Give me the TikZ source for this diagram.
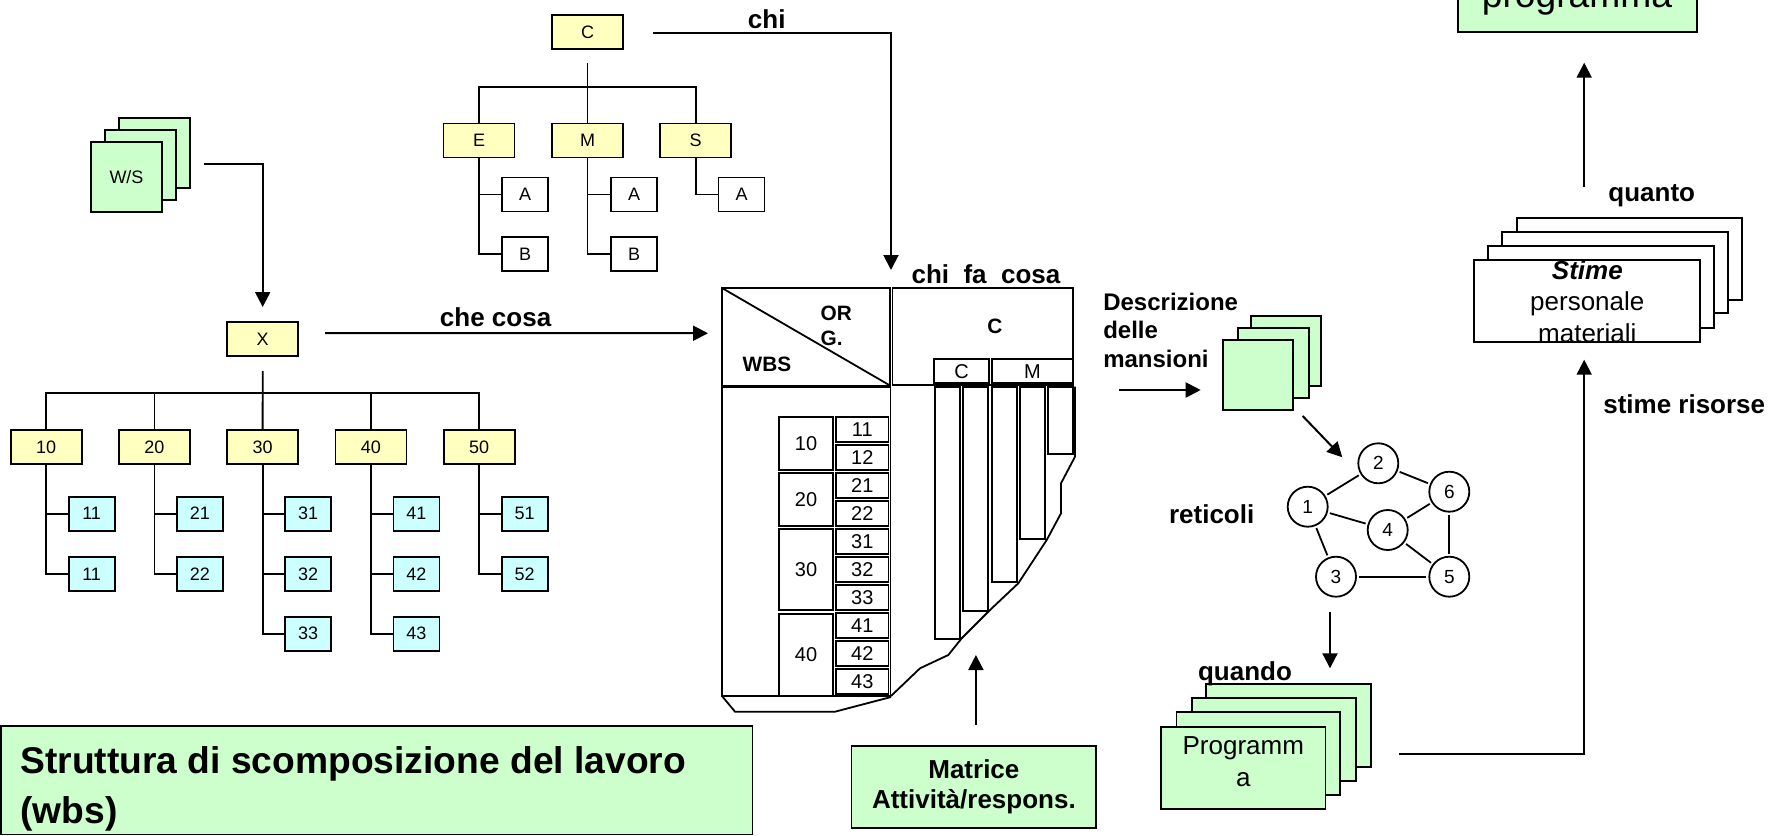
\documentclass[tikz,border=0pt]{standalone}
\usepackage{fontspec}
\setmainfont{Liberation Sans}
\usetikzlibrary{arrows.meta,calc}
\definecolor{boxyellow}{RGB}{255,255,192}
\definecolor{boxcyan}{RGB}{204,255,255}
\definecolor{boxgreen}{RGB}{204,255,204}
\newcommand{\fsz}[2]{\fontsize{#1}{#2}\selectfont}
\begin{document}
\begin{tikzpicture}[x=0.5pt,y=-0.5pt,
  every node/.style={inner sep=0pt,outer sep=0pt},
  ln/.style={line width=0.9pt},
  tln/.style={line width=1.6pt},
  bx/.style n args={2}{draw,line width=0.9pt,minimum width=#1*0.5pt,minimum height=#2*0.5pt},
  ybox/.style={bx={71}{34},fill=boxyellow,font=\fsz{9}{11}},
  cbox/.style={bx={46}{34},fill=boxcyan,font=\fsz{9}{11}},
  wbox/.style={bx={46}{34},fill=white,font=\fsz{9}{11}},
  card/.style={draw,line width=0.9pt},
  arr/.style={line width=1pt,-{Triangle[length=7.5pt,width=7.5pt]}},
  lbl/.style={font=\fsz{13}{15}\bfseries},
  mnum/.style={font=\fsz{10}{12}},
  nd/.style={circle,draw,line width=0.9pt,minimum size=20pt,fill=white,font=\fsz{9.5}{11}},
  netedge/.style={line width=0.9pt,shorten <=1.5pt,shorten >=1.5pt},
]
\useasboundingbox (0,0) rectangle (1785,836);
\clip (0,0) rectangle (1785,836);
\fill[white] (0,0) rectangle (1785,836);

% ---------- organisation chart ----------
\node[ybox] (C) at (587.5,32) {C};
\node[ybox] (E) at (479,140.5) {E};
\node[ybox] (M) at (587.5,140.5) {M};
\node[ybox] (S) at (695.7,140.5) {S};
\node[wbox] (EA) at (525,194.5) {A};
\node[wbox] (EB) at (525,254.3) {B};
\node[wbox] (MA) at (634,194.5) {A};
\node[wbox] (MB) at (634,254.3) {B};
\node[wbox] (SA) at (741.5,194.5) {A};
\coordinate (Cbar) at ($(C.south)+(0,38)$);
\draw[ln] ($(C.south)+(0,14)$) -- (M.north);
\draw[ln] (E.north) |- (Cbar) -| (S.north);
\draw[ln] (E.south) |- (EB.west);
\draw[ln] (E.south |- EA.west) -- (EA.west);
\draw[ln] (M.south) |- (MB.west);
\draw[ln] (M.south |- MA.west) -- (MA.west);
\draw[ln] (S.south) |- (SA.west);

% ---------- work breakdown structure ----------
\draw[card,fill=boxgreen] (119,118) rectangle (190,188);
\draw[card,fill=boxgreen] (105,130) rectangle (176,200);
\node[bx={71}{70},fill=boxgreen,font=\fsz{9}{11}] (ws) at (126.5,177) {W/S};
\node[ybox] (X) at (262.7,339) {X};
\foreach \p/\x in {10/46.1,20/154.4,30/262.6,40/370.9,50/479.1}
  \node[ybox] (w\p) at (\x,447.2) {\p};
\foreach \p/\a/\b in {10/11/11,20/21/22,30/31/32,40/41/42,50/51/52}{
  \node[cbox] (w\p-a) at ($(w\p)+(45.5,66.5)$) {\a};
  \node[cbox] (w\p-b) at ($(w\p)+(45.5,126.6)$) {\b};
  \draw[ln] (w\p.south) |- (w\p-b.west);
  \draw[ln] (w\p.south |- w\p-a.west) -- (w\p-a.west);
}
\node[cbox] (w30-c) at ($(w30)+(45.5,186.5)$) {33};
\node[cbox] (w40-c) at ($(w40)+(45.5,186.5)$) {43};
\draw[ln] (w30.south |- w30-b.west) |- (w30-c.west);
\draw[ln] (w40.south |- w40-b.west) |- (w40-c.west);
\coordinate (Xbar) at ($(X.south)+(0,37)$);
\draw[ln] ($(X.south)+(0,15)$) -- (w30.north);
\draw[ln] (w10.north) |- (Xbar) -| (w50.north);
\draw[ln] (w20.north) -- (w20.north |- Xbar);
\draw[ln] (w40.north) -- (w40.north |- Xbar);
\draw[arr] ($(ws.east)+(42,-13)$) -| ($(X.north)+(0,-15)$);

% ---------- responsibility matrix ----------
\node[bx={168}{97.5}] (hdr) at (806,336.75) {};
\draw[ln] (hdr.north west) -- (hdr.south east);
\node[font=\fsz{10.4}{12}\bfseries,anchor=base west] (tOR) at (820.7,320.7) {OR};
\node[font=\fsz{10.4}{12}\bfseries,anchor=base west] (tG) at (820.7,345) {G.};
\node[font=\fsz{10.4}{12}\bfseries,anchor=base west] (tWBS) at (742.7,371.7) {WBS};
\node[bx={180.8}{97}] (hdrC) at (982.9,336.5) {};
\node[font=\fsz{10.4}{12}\bfseries] (tC) at (995,326.7) {C};
\draw[tln] (722,386.5) -- (890.5,386.5);
\draw[ln] (722,386) -- (722,696) -- (891,696);
\draw[ln] (890.5,386) -- (890.5,696);
\draw[ln] (722,696) -- (735,711.7) -- (835,711.7) -- (891,697);
% sub-header
\node[bx={54.4}{24.3},mnum] (shC) at (961.5,371.2) {C};
\node[bx={81.6}{24.3},mnum] (shM) at (1032.5,371.2) {M};
% activity bars
\draw[ln] (935,386.7) rectangle (960,639);
\draw[ln] (963.3,386.7) rectangle (988.3,610.7);
\draw[ln] (991.7,386.7) rectangle (1016.7,582.3);
\draw[ln] (1020,386.7) rectangle (1045,539);
\draw[ln] (1048.3,386.7) rectangle (1073.3,454);
\draw[ln] (1075,386.7) -- (1075,456.7) -- (1061,483.3) -- (1061,513.3)
  -- (1046.7,540) -- (1018.3,583.3) -- (990,610) -- (961.7,638.3)
  -- (948.3,655) -- (920,668.3) -- (891,696);
% WBS rows
\foreach \k/\t in {0/11,1/12,2/21,3/22,4/31,5/32,6/33,7/41,8/42,9/43}
  \node[bx={52.5}{25},mnum] (r\t) at (862.25,{429.5+28*\k}) {\t};
\node[bx={54}{53},mnum] (g10) at (806,443.5) {10};
\node[bx={54}{53},mnum] (g20) at (806,499.5) {20};
\node[bx={54}{81},mnum] (g30) at (806,569.5) {30};
\node[bx={54}{82},mnum] (g40) at (806,655) {40};

% labels and arrows into the matrix
\draw[arr] ($(X.east)+(27,-6)$) -- ($(hdr.west)+(-14,-3.5)$);
\node[lbl,anchor=base] (lcc) at (495.6,326.7) {che cosa};
\draw[arr] ($(C.east)+(30,0.5)$) -| ($(hdr.north east)+(1,-18)$);
\node[lbl,anchor=base] (lchi) at (766.7,28.3) {chi};
\node[lbl,anchor=base] (lcfc) at (986,283.3) {chi\ \ fa\ \ cosa};

% ---------- captions ----------
\node[bx={751.5}{108.5},fill=boxgreen] (wbsbox) at (376.75,780.25) {};
\node[font=\fsz{18.6}{25}\bfseries,align=left,anchor=north west] (wbstext) at (20.5,746.5)
  {Struttura di scomposizione del lavoro\\(wbs)};
\node[bx={244.8}{81.9},fill=boxgreen,font=\fsz{13}{15}\bfseries,align=center] (mat) at (973.9,786.65)
  {Matrice\\Attività/respons.};
\draw[arr] ($(mat.north)+(2,-20.7)$) -- ++(0,-70);

% ---------- job descriptions ----------
\node[font=\fsz{12}{14.2}\bfseries,align=left,anchor=north west] (ldesc) at (1103.3,293)
  {Descrizione\\delle\\mansioni};
\draw[card,fill=boxgreen] (1250.7,316) rectangle (1320.7,386);
\draw[card,fill=boxgreen] (1238.3,328.3) rectangle (1308.7,397.7);
\node[bx={70}{70},fill=boxgreen] (desc) at (1257.7,375) {};
\coordinate (din) at (1119,390);
\draw[arr] (din) -- ($(desc.west)+(-22,15)$);

% ---------- network ----------
\node[nd] (n1) at (1307.7,506.7) {1};
\node[nd] (n2) at (1378.3,463.3) {2};
\node[nd] (n6) at (1449.3,491.7) {6};
\node[nd] (n4) at (1387.7,530) {4};
\node[nd] (n3) at (1336,576.7) {3};
\node[nd] (n5) at (1449.3,576.7) {5};
\foreach \a/\b in {n1/n2,n1/n4,n1/n3,n2/n6,n4/n6,n4/n5,n6/n5,n3/n5}
  \draw[netedge] (\a) -- (\b);
\node[lbl,anchor=base] (lret) at (1211.7,523.3) {reticoli};
\draw[arr] ($(desc.south east)+(10,6)$) -- ($(n2)+(-36,-6)$);
\draw[arr] ($(n3.south)+(-6,15)$) -- ++(0,56.6);

% ---------- schedule ----------
\draw[card,fill=boxgreen] (1206.2,684) rectangle (1370.9,766.7);
\draw[card,fill=boxgreen] (1191.7,698) rectangle (1356,781);
\draw[card,fill=boxgreen] (1176.5,712) rectangle (1340.3,795);
\node[bx={164.2}{82.6},fill=boxgreen] (prog) at (1243.3,768) {};
\node[font=\fsz{13}{16},align=center,anchor=north] (progtext) at (1243.3,736.5) {Programm\\a};
\node[lbl,anchor=base] (lquando) at (1245,680) {quando};

% ---------- estimates ----------
\draw[card,fill=white] (1516.7,217.7) rectangle (1742.3,300);
\draw[card,fill=white] (1502.3,231.7) rectangle (1728.3,313.3);
\draw[card,fill=white] (1488.3,246) rectangle (1714,327.7);
\node[bx={225.7}{81.7},fill=white] (stime) at (1587.2,300.85) {};
\node[font=\fsz{13}{15.8},align=center,anchor=north] (stimetext) at (1587.3,260.5)
  {\textbf{\textit{Stime}}\\personale\\materiali};
\draw[arr] ($(prog.east)+(74,-14)$) -| ($(stime.south)+(-3,18)$);
\node[lbl,anchor=base west] (lrisorse) at (1603.3,413) {stime risorse};
\node[lbl,anchor=base] (lquanto) at (1651.7,201.7) {quanto};

% ---------- overall programme ----------
\node[bx={239}{71.7},fill=boxgreen] (top) at (1577.2,-4.15) {};
\node[font=\fsz{18.6}{22},anchor=base] (toptext) at (1577,7) {programma};
\draw[arr] ($(stime.north)+(-3,-73.3)$) -- ($(top.south)+(7,31)$);
\end{tikzpicture}
\end{document}
